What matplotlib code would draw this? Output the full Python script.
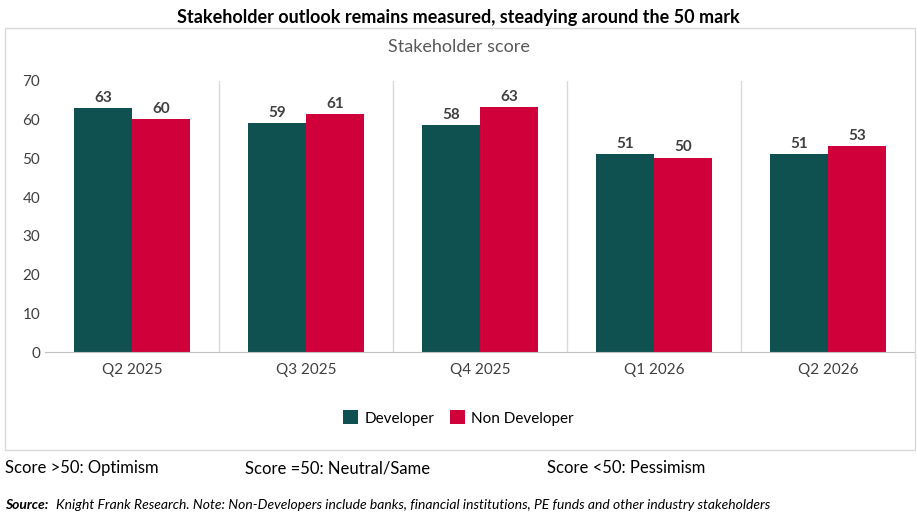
import matplotlib.pyplot as plt
import numpy as np
from matplotlib.patches import Rectangle

plt.rcParams['font.family'] = ['Lato', 'DejaVu Sans']

quarters = ['Q2 2025', 'Q3 2025', 'Q4 2025', 'Q1 2026', 'Q2 2026']
developer = [63.0, 59.2, 58.7, 51.2, 51.2]
non_developer = [60.1, 61.4, 63.3, 50.2, 53.1]
dev_labels = ['63', '59', '58', '51', '51']
nondev_labels = ['60', '61', '63', '50', '53']

teal = '#0F5050'
red = '#D0003A'

fig = plt.figure(figsize=(9.17, 5.25), dpi=100)
# outer frame
fig.patches.append(Rectangle((5 / 917, 1 - 450 / 525), 910 / 917, 422 / 525,
                             transform=fig.transFigure, fill=False,
                             edgecolor='#D9D9D9', linewidth=1))

ax = fig.add_axes([0.049, 0.3295, 0.949, 0.5165])
x = np.arange(len(quarters))
w = 0.335
b1 = ax.bar(x - w / 2, developer, w, color=teal, label='Developer')
b2 = ax.bar(x + w / 2, non_developer, w, color=red, label='Non Developer')

for bars, labs in ((b1, dev_labels), (b2, nondev_labels)):
    for bar, lab in zip(bars, labs):
        ax.text(bar.get_x() + bar.get_width() / 2, bar.get_height() + 0.8, lab,
                ha='center', va='bottom', fontsize=11, fontweight='bold',
                color='#404040')

ax.set_xlim(-0.5, len(quarters) - 0.5)
ax.set_ylim(0, 70)
ax.set_yticks(range(0, 71, 10))
ax.set_xticks(x)
ax.set_xticklabels(quarters)
ax.tick_params(axis='both', length=0, labelsize=11, colors='#404040')
ax.tick_params(axis='x', pad=8)
for s in ['top', 'right', 'left']:
    ax.spines[s].set_visible(False)
ax.spines['bottom'].set_color('#BFBFBF')
for i in range(1, len(quarters)):
    ax.axvline(i - 0.5, color='#D9D9D9', linewidth=1)

fig.text(0.5, 1 - 18 / 525, 'Stakeholder outlook remains measured, steadying around the 50 mark',
         ha='center', va='center', fontsize=13, fontweight='bold', color='black')
fig.text(0.5, 1 - 47 / 525, 'Stakeholder score', ha='center', va='center',
         fontsize=13, color='#595959')

fig.legend(handles=[b1, b2], loc='center', bbox_to_anchor=(0.5, 1 - 418 / 525),
           ncol=2, frameon=False, fontsize=11, handlelength=1, handleheight=1,
           columnspacing=1.0, handletextpad=0.4)

fig.text(5 / 917, 1 - 468 / 525, 'Score >50: Optimism', va='center', fontsize=12)
fig.text(245 / 917, 1 - 468 / 525, 'Score =50: Neutral/Same', va='center', fontsize=12)
fig.text(547 / 917, 1 - 468 / 525, 'Score <50: Pessimism', va='center', fontsize=12)
fig.text(5 / 917, 1 - 505 / 525, r'$\bf{Source:}$' + ' Knight Frank Research. Note: Non-Developers include banks, '
         'financial institutions, PE funds and other industry stakeholders',
         va='center', fontsize=10, style='italic')
t = fig.texts[-1]
t.remove()
fig.text(5 / 917, 1 - 505 / 525, 'Source:', va='center', fontsize=10,
         style='italic', fontweight='bold')
fig.text(56 / 917, 1 - 505 / 525, 'Knight Frank Research. Note: Non-Developers include banks, '
         'financial institutions, PE funds and other industry stakeholders',
         va='center', fontsize=10, style='italic')

fig.savefig('out.png', dpi=100)
